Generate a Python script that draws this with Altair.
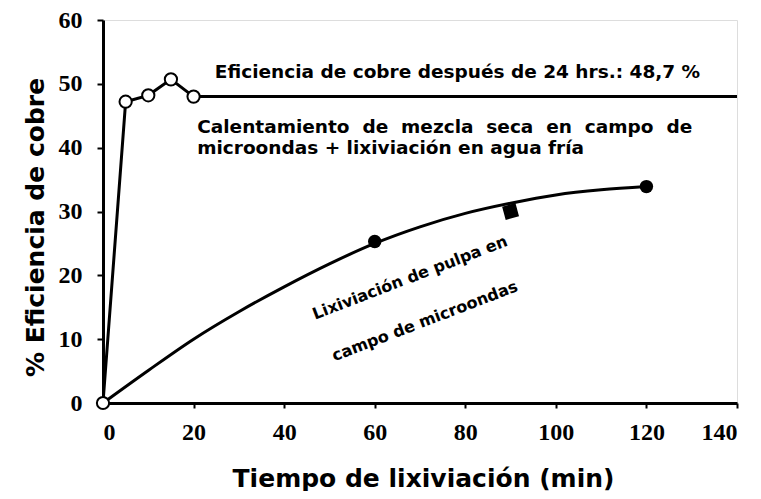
import altair as alt
import pandas as pd

# Open-circle series: dry mix heated in microwave field + cold water leach
dry_x = [0, 5, 10, 15, 20]
dry_y = [0, 47.2, 48.2, 50.7, 48.0]
# flat continuation line (48,7 % after 24 h)
flat_x = [20, 140]
flat_y = [48.0, 48.0]

# Filled series: pulp leaching in microwave field (measured points)
circ_x = [60, 120]
circ_y = [25.3, 33.9]
sq_x = [90]
sq_y = [30.0]
# fitted curve
curve_x = [0, 10, 20, 30, 40, 50, 60, 70, 80, 90, 100, 110, 120]
curve_y = [0, 5.1, 10.0, 14.3, 18.2, 21.8, 25.0, 27.6, 29.7, 31.3, 32.6, 33.4, 33.9]

x_ticks = [0, 20, 40, 60, 80, 100, 120, 140]
y_ticks = [0, 10, 20, 30, 40, 50, 60]

ann_text = [
    "Eficiencia de cobre después de 24 hrs.: 48,7 %",
    "Calentamiento\u00a0 de\u00a0 mezcla\u00a0 seca\u00a0 en\u00a0 campo\u00a0 de",
    "microondas + lixiviación en agua fría",
]
ann_x = [24.7, 20.8, 20.8]
ann_y = [51.9, 43.2, 40.0]

rot_text = ["Lixiviación de pulpa en", "campo de microondas"]
rot_x = [67.8, 71.1]
rot_y = [19.6, 12.8]

W, H = 634, 383

xs = alt.Scale(domain=[0, 140], nice=False)
ys = alt.Scale(domain=[0, 60], nice=False)

df_dry = pd.DataFrame({"x": dry_x, "y": dry_y})
df_flat = pd.DataFrame({"x": flat_x, "y": flat_y})
df_circ = pd.DataFrame({"x": circ_x, "y": circ_y})
df_sq = pd.DataFrame({"x": sq_x, "y": sq_y})
df_curve = pd.DataFrame({"x": curve_x, "y": curve_y})
df_ann = pd.DataFrame({"x": ann_x, "y": ann_y, "t": ann_text})
df_rot = pd.DataFrame({"x": rot_x, "y": rot_y, "t": rot_text})

xaxis = alt.Axis(
    values=x_ticks, grid=False, title="Tiempo de lixiviación (min)",
    labelFont="Liberation Serif", labelFontWeight="bold", labelFontSize=24,
    labelColor="black", labelPadding=12, tickSize=5, tickWidth=2, tickColor="black",
    domainWidth=3, domainColor="black",
    titleFont="DejaVu Sans", titleFontWeight="bold", titleFontSize=25, titleColor="black",
    titleY=83, titleBaseline="alphabetic", titleX=W / 2 + 3,
)
yaxis = alt.Axis(
    values=y_ticks, grid=False, title="% Eficiencia de cobre",
    labelFont="Liberation Serif", labelFontWeight="bold", labelFontSize=24,
    labelColor="black", labelPadding=15, tickSize=6, tickWidth=2, tickColor="black",
    domainWidth=3, domainColor="black",
    titleFont="DejaVu Sans", titleFontWeight="bold", titleFontSize=25, titleColor="black",
    titleX=-68, titleY=207, titleAngle=-90, titleBaseline="middle", titleAlign="center",
)

base_x = alt.X("x:Q", scale=xs, axis=xaxis)
base_y = alt.Y("y:Q", scale=ys, axis=yaxis)

curve = alt.Chart(df_curve).mark_line(color="black", strokeWidth=3, interpolate="monotone").encode(
    x=base_x, y=base_y)
flat = alt.Chart(df_flat).mark_line(color="black", strokeWidth=3).encode(x="x:Q", y="y:Q")
dry_line = alt.Chart(df_dry).mark_line(color="black", strokeWidth=3).encode(x="x:Q", y="y:Q")
dry_pts = alt.Chart(df_dry).mark_point(
    shape="circle", filled=True, fill="white", stroke="black", strokeWidth=2, size=150, opacity=1
).encode(x="x:Q", y="y:Q")
circ_pts = alt.Chart(df_circ).mark_point(
    shape="circle", filled=True, color="black", size=180, opacity=1).encode(x="x:Q", y="y:Q")
sq_pts = alt.Chart(df_sq).mark_point(
    shape="square", filled=True, color="black", size=190, opacity=1, angle=345).encode(x="x:Q", y="y:Q")
ann = alt.Chart(df_ann).mark_text(
    font="DejaVu Sans", fontWeight="bold", fontSize=18.5, align="left", baseline="middle", color="black"
).encode(x="x:Q", y="y:Q", text="t:N")
rot = alt.Chart(df_rot).mark_text(
    font="DejaVu Sans", fontWeight="bold", fontSize=16, align="center", baseline="middle",
    color="black", angle=339
).encode(x="x:Q", y="y:Q", text="t:N")

chart = alt.layer(curve, flat, dry_line, dry_pts, circ_pts, sq_pts, ann, rot).properties(
    width=W, height=H,
    autosize=alt.AutoSizeParams(type="none"),
    padding={"left": 95, "top": 12, "right": 16, "bottom": 88},
).configure_view(stroke="black", strokeWidth=3).configure(background="white")

chart.save("out.html", embed_options={"renderer": "svg", "actions": False})
